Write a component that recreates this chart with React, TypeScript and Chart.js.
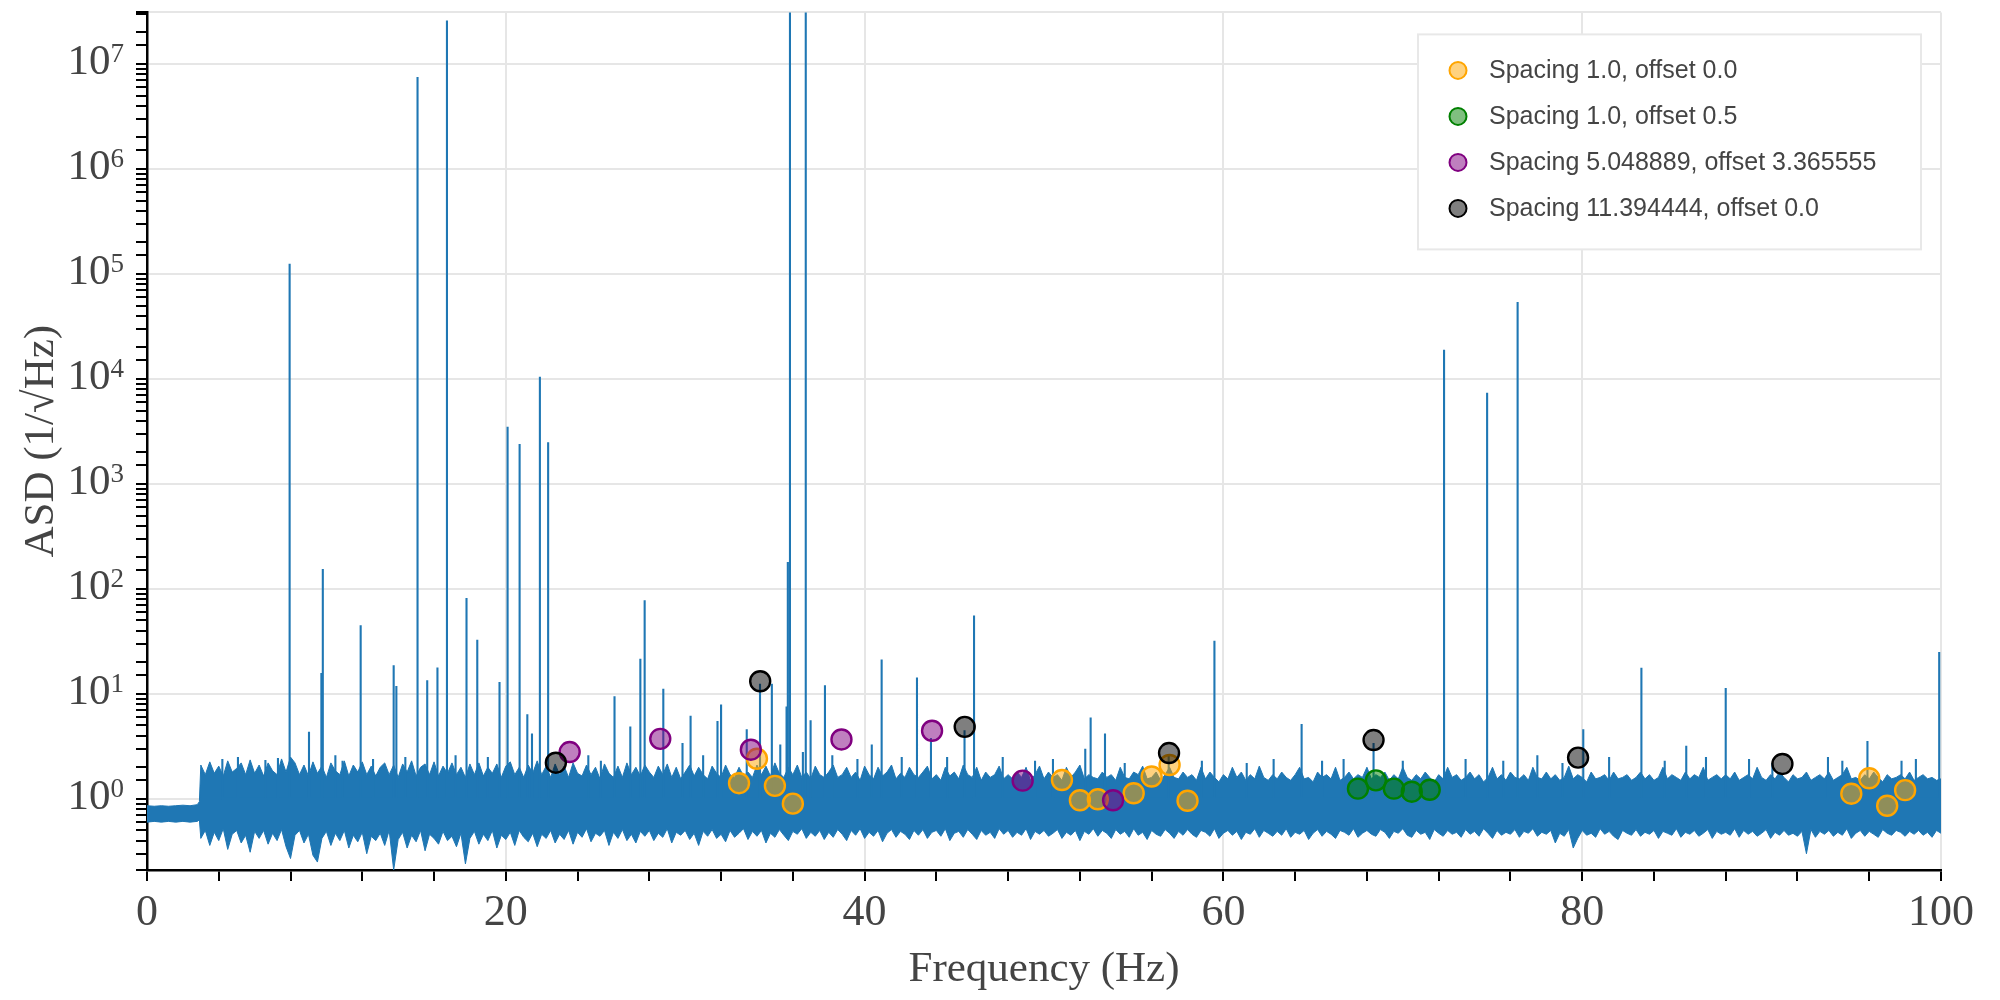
import React, { useEffect, useRef } from 'react';
import { Chart, registerables } from 'chart.js';

Chart.register(...registerables);

const BLUE = '#1f77b4';

// ---- low-frequency band (below ~3 Hz) ----
const lowBandFreqs = [0, 0.4, 0.8, 1.2, 1.6, 2.0, 2.4, 2.8, 2.92];
const lowBandUpper = [0.86, 0.85, 0.86, 0.85, 0.86, 0.87, 0.86, 0.88, 0.94];
const lowBandLower = [0.6, 0.61, 0.6, 0.61, 0.6, 0.61, 0.6, 0.61, 0.63];

// ---- broadband noise envelope, sampled every 0.25 Hz from 3.0 Hz to 100 Hz ----
const noiseStartHz = 3.0;
const noiseStepHz = 0.25;
const noiseUpper = [
  2.1, 1.7, 2.25, 1.75, 2.05, 1.65, 2.3, 1.8, 1.95, 2.2, 1.7, 2.35, 1.75, 2.1, 1.65, 2.2, 1.85, 1.7, 2.4, 1.8,
  2.5, 2.2, 1.7, 2.1, 1.65, 2.25, 1.75, 2.05, 1.6, 2.2, 1.85, 1.7, 2.3, 1.65, 2.1, 1.8, 2.25, 1.7, 2.05, 1.65,
  2.0, 2.2, 1.7, 2.1, 1.6, 2.15, 1.8, 2.3, 1.65, 2.0, 2.15, 1.7, 2.25, 1.65, 2.05, 1.75, 2.2, 1.7, 2.0, 1.6,
  2.15, 1.7, 2.2, 1.65, 2.0, 1.75, 2.15, 1.6, 2.05, 2.25, 1.7, 2.0, 1.6, 2.1, 1.75, 2.3, 1.7, 2.05, 1.6, 2.15,
  1.7, 2.05, 1.6, 2.2, 1.75, 1.65, 2.1, 1.7, 2.0, 1.55, 2.15, 1.75, 1.6, 2.05, 1.6, 2.2, 1.7, 2.0, 1.65, 2.1,
  1.8, 1.6, 2.05, 1.7, 2.15, 1.6, 2.0, 1.55, 1.8, 2.1, 1.65, 2.0, 1.7, 1.55, 2.05, 1.75, 1.6, 2.1, 1.7, 1.6,
  2.0, 1.65, 1.8, 1.6, 2.1, 1.7, 2.05, 1.65, 2.2, 1.75, 1.6, 2.0, 1.7, 2.1, 1.6, 1.8, 1.55, 2.05, 1.7, 1.6,
  1.8, 2.1, 1.6, 1.7, 2.0, 1.6, 1.8, 1.5, 2.05, 1.7, 1.55, 2.0, 1.65, 1.8, 2.1, 1.55, 1.75, 1.6, 2.0, 1.7,
  1.6, 1.8, 2.05, 1.55, 1.7, 1.5, 2.0, 1.65, 1.8, 1.55, 2.1, 1.7, 1.6, 2.0, 1.5, 1.8, 1.6, 1.7, 2.05, 1.55,
  1.7, 1.55, 1.8, 1.6, 2.0, 1.5, 1.7, 2.05, 1.55, 1.8, 1.6, 1.7, 1.5, 2.0, 1.6, 1.8, 2.1, 1.55, 1.7, 1.6,
  1.55, 1.8, 1.6, 1.7, 1.5, 2.0, 1.6, 1.55, 1.8, 1.7, 2.05, 1.55, 1.6, 1.8, 1.5, 1.7, 2.0, 1.6, 1.55, 1.8,
  1.6, 1.7, 1.5, 2.0, 1.55, 1.8, 1.6, 1.45, 1.7, 1.55, 2.0, 1.6, 1.8, 1.5, 1.7, 1.55, 2.05, 1.6, 1.5, 1.7,
  1.55, 1.8, 1.6, 1.5, 1.7, 2.0, 1.55, 1.6, 1.45, 1.8, 1.6, 1.7, 1.55, 2.0, 1.5, 1.6, 1.8, 1.55, 1.7, 1.6,
  2.0, 1.55, 1.7, 1.6, 1.8, 1.5, 1.7, 1.55, 2.0, 1.6, 1.5, 1.7, 1.55, 1.8, 1.6, 1.45, 1.7, 1.55, 2.0, 1.6,
  1.7, 1.5, 1.6, 1.8, 1.55, 1.7, 1.45, 1.6, 2.0, 1.55, 1.7, 1.5, 1.8, 1.6, 1.55, 1.7, 1.5, 2.0, 1.6, 1.55,
  1.8, 1.55, 1.7, 1.5, 1.6, 2.05, 1.55, 1.7, 1.6, 1.45, 1.8, 1.55, 1.6, 1.7, 1.5, 1.8, 1.55, 1.6, 1.7, 1.5,
  1.6, 1.8, 1.55, 1.7, 1.5, 1.6, 2.0, 1.55, 1.7, 1.6, 1.5, 1.8, 1.55, 1.7, 1.6, 2.0, 1.5, 1.6, 1.7, 1.55,
  1.7, 1.55, 1.8, 1.5, 1.6, 1.7, 1.55, 2.0, 1.6, 1.5, 1.7, 1.55, 1.8, 1.6, 1.45, 1.7, 1.55, 1.6, 1.8, 1.5,
  1.6, 1.7, 1.55, 1.8, 1.5, 1.6, 1.7, 2.0, 1.55, 1.6, 1.5, 1.7, 1.55, 1.8, 1.6, 1.45, 1.7, 1.55, 1.6, 1.7,
  1.55, 1.8, 1.5, 1.6, 1.7, 1.55, 1.6, 1.5, 1.55,
];
const noiseLower = [
  0.42, 0.5, 0.36, 0.48, 0.4, 0.52, 0.33, 0.46, 0.5, 0.38, 0.45, 0.31, 0.49, 0.42, 0.5, 0.37, 0.47, 0.4, 0.51, 0.35,
  0.27, 0.45, 0.5, 0.38, 0.46, 0.29, 0.25, 0.42, 0.49, 0.36, 0.47, 0.4, 0.5, 0.34, 0.45, 0.39, 0.48, 0.3, 0.44, 0.4,
  0.47, 0.36, 0.5, 0.21, 0.41, 0.48, 0.34, 0.45, 0.39, 0.5, 0.32, 0.46, 0.42, 0.37, 0.49, 0.4, 0.44, 0.35, 0.47, 0.24,
  0.42, 0.49, 0.37, 0.46, 0.4, 0.5, 0.34, 0.45, 0.41, 0.48, 0.36, 0.5, 0.43, 0.39, 0.47, 0.35, 0.46, 0.42, 0.5, 0.38,
  0.46, 0.41, 0.5, 0.37, 0.48, 0.43, 0.52, 0.39, 0.47, 0.44, 0.5, 0.36, 0.48, 0.42, 0.51, 0.4, 0.46, 0.38, 0.49, 0.44,
  0.5, 0.4, 0.47, 0.43, 0.52, 0.38, 0.48, 0.45, 0.5, 0.41, 0.47, 0.36, 0.49, 0.44, 0.51, 0.42, 0.46, 0.39, 0.5, 0.43,
  0.47, 0.52, 0.41, 0.49, 0.44, 0.5, 0.38, 0.47, 0.43, 0.51, 0.45, 0.4, 0.49, 0.46, 0.52, 0.42, 0.48, 0.44, 0.5, 0.41,
  0.48, 0.43, 0.51, 0.46, 0.4, 0.5, 0.45, 0.52, 0.42, 0.48, 0.44, 0.5, 0.39, 0.47, 0.51, 0.43, 0.49, 0.46, 0.41, 0.5,
  0.45, 0.51, 0.42, 0.48, 0.5, 0.44, 0.52, 0.4, 0.47, 0.49, 0.43, 0.51, 0.46, 0.41, 0.5, 0.45, 0.48, 0.42, 0.52, 0.46,
  0.5, 0.43, 0.48, 0.45, 0.52, 0.41, 0.49, 0.46, 0.5, 0.44, 0.47, 0.51, 0.42, 0.48, 0.45, 0.5, 0.4, 0.49, 0.46, 0.52,
  0.44, 0.5, 0.47, 0.42, 0.51, 0.46, 0.49, 0.43, 0.52, 0.45, 0.48, 0.41, 0.5, 0.46, 0.44, 0.51, 0.47, 0.42, 0.49, 0.45,
  0.51, 0.46, 0.43, 0.5, 0.48, 0.44, 0.52, 0.42, 0.47, 0.5, 0.45, 0.49, 0.41, 0.48, 0.46, 0.52, 0.43, 0.5, 0.47, 0.44,
  0.49, 0.45, 0.52, 0.43, 0.48, 0.46, 0.5, 0.41, 0.47, 0.51, 0.44, 0.49, 0.46, 0.42, 0.5, 0.48, 0.45, 0.52, 0.43, 0.47,
  0.5, 0.46, 0.44, 0.51, 0.48, 0.42, 0.49, 0.47, 0.52, 0.45, 0.43, 0.5, 0.46, 0.48, 0.41, 0.51, 0.47, 0.44, 0.5, 0.46,
  0.48, 0.43, 0.51, 0.46, 0.49, 0.44, 0.52, 0.47, 0.42, 0.5, 0.45, 0.48, 0.46, 0.51, 0.43, 0.49, 0.47, 0.52, 0.44, 0.48,
  0.46, 0.5, 0.38, 0.47, 0.44, 0.51, 0.34, 0.42, 0.5, 0.45, 0.47, 0.43, 0.52, 0.46, 0.49, 0.44, 0.41, 0.5, 0.47, 0.45,
  0.51, 0.44, 0.48, 0.46, 0.5, 0.42, 0.49, 0.47, 0.45, 0.52, 0.43, 0.48, 0.46, 0.5, 0.44, 0.47, 0.51, 0.42, 0.49, 0.46,
  0.48, 0.45, 0.52, 0.43, 0.5, 0.46, 0.49, 0.44, 0.47, 0.51, 0.42, 0.48, 0.45, 0.5, 0.45, 0.47, 0.44, 0.49, 0.3, 0.51,
  0.43, 0.49, 0.46, 0.5, 0.44, 0.48, 0.45, 0.52, 0.42, 0.47, 0.5, 0.44, 0.49, 0.46, 0.43, 0.51, 0.47, 0.45, 0.5, 0.48,
  0.44, 0.49, 0.46, 0.5, 0.45, 0.48, 0.43, 0.5, 0.47,
];

// ---- narrow spectral lines (frequency in Hz, ASD value) ----
const lineFreqs = [
  4.2, 5.07, 6.6, 7.3, 7.95, 9.03, 9.72, 9.8, 10.5, 10.9, 11.91, 12.6, 13.75, 13.9, 14.4, 15.08, 15.62, 16.19,
  16.72, 17.2, 17.81, 18.41, 19.0, 19.65, 20.1, 20.77, 21.2, 21.46, 21.9, 22.36, 24.6, 25.3, 26.06, 26.94, 27.5,
  27.74, 28.78, 29.85, 30.3, 31.0, 31.8, 32.0, 33.43, 34.17, 34.83, 35.3, 35.65, 35.72, 35.84, 36.56, 36.72,
  36.99, 37.79, 38.2, 39.6, 40.4, 40.95, 42.07, 42.92, 43.7, 44.6, 45.57, 46.1, 47.7, 49.5, 50.5, 52.3, 52.6,
  53.4, 54.5, 56.95, 58.8, 59.5, 61.3, 62.8, 64.36, 65.5, 66.7, 68.37, 70.0, 72.3, 73.5, 74.7, 75.6, 76.4, 77.5,
  78.9, 80.06, 81.5, 83.3, 84.6, 85.8, 86.9, 88.0, 89.3, 90.6, 93.7, 94.5, 95.9, 97.8, 98.6, 99.9,
];
const lineValues = [
  2.4, 2.5, 2.35, 2.45, 1.25e5, 4.35, 15.8, 155, 2.6, 2.3, 45, 2.4, 18.7, 11.9, 2.5, 7.5e6, 13.5, 17.8,
  2.6e7, 2.6, 82, 32.7, 2.5, 13, 3500, 2400, 6.4, 4.2, 1.05e4, 2500, 2.6, 2.3, 9.5, 4.9, 21.6,
  78, 11.2, 3.4, 6.2, 2.6, 5.5, 7.9, 4.6, 12.5, 12.5, 3.3, 7.6, 180, 4e7, 2.8, 4e7,
  5.6, 12.1, 2.6, 2.4, 3.3, 21.3, 2.5, 14.3, 3.8, 2.5, 4.5, 55.7, 2.5, 2.3, 2.4, 3.0, 5.96,
  4.2, 2.2, 2.6, 2.3, 32, 2.2, 2.4, 5.15, 2.3, 2.4, 3.4, 2.3, 1.9e4, 2.4, 7400, 2.3, 5.4e4, 2.6,
  2.2, 4.6, 2.5, 17.7, 2.3, 3.2, 2.5, 11.4, 2.4, 2.2, 2.5, 2.3, 3.55, 2.3, 2.4, 25,
];
const lineBase = 1.0;

// ---- comb markers ----
const seriesLabels = [
  'Spacing 1.0, offset 0.0',
  'Spacing 1.0, offset 0.5',
  'Spacing 5.048889, offset 3.365555',
  'Spacing 11.394444, offset 0.0',
];
const seriesColors = ['255,165,0', '0,128,0', '128,0,128', '0,0,0'];

const orangeFreqs = [33, 34, 35, 36, 51, 52, 53, 55, 56, 57, 58, 95, 96, 97, 98];
const orangeValues = [1.41, 2.41, 1.33, 0.9, 1.51, 0.97, 0.99, 1.13, 1.63, 2.1, 0.96, 1.12, 1.57, 0.86, 1.21];
const greenFreqs = [67.5, 68.5, 69.5, 70.5, 71.5];
const greenValues = [1.25, 1.5, 1.25, 1.17, 1.22];
const purpleFreqs = [23.56, 28.61, 33.66, 38.71, 43.76, 48.81, 53.85];
const purpleValues = [2.79, 3.73, 2.94, 3.68, 4.45, 1.49, 0.97];
const blackFreqs = [22.79, 34.18, 45.58, 56.97, 68.37, 79.77, 91.16];
const blackValues = [2.21, 13.2, 4.85, 2.73, 3.63, 2.47, 2.15];

const xMin = 0;
const xMax = 100;
const yMin = 0.21;
const yMax = 3.1e7;

const xTitle = 'Frequency (Hz)';
const yTitle = 'ASD (1/√Hz)';

const SERIF = '"Liberation Serif", "Times New Roman", serif';
const SANS = '"Liberation Sans", Arial, Helvetica, sans-serif';

function pts(xs: number[], ys: number[]) {
  return xs.map((x, i) => ({ x, y: ys[i] }));
}

function isDecade(v: number | undefined) {
  if (v === undefined || v <= 0) return false;
  const e = Math.log10(v);
  return Math.abs(e - Math.round(e)) < 1e-6;
}

const yLabelPlugin = {
  id: 'yPowLabels',
  afterDraw(chart: any) {
    const ctx = chart.ctx;
    const sc = chart.scales.y;
    const right = sc.right - 23;
    ctx.save();
    ctx.fillStyle = '#444';
    ctx.textBaseline = 'alphabetic';
    ctx.textAlign = 'right';
    sc.ticks.forEach((t: any) => {
      if (!isDecade(t.value)) return;
      const y = sc.getPixelForValue(t.value);
      const exp = String(Math.round(Math.log10(t.value)));
      ctx.font = `27px ${SERIF}`;
      const ew = ctx.measureText(exp).width;
      ctx.fillText(exp, right, y - 2);
      ctx.font = `43px ${SERIF}`;
      ctx.fillText('10', right - ew, y + 10);
    });
    ctx.restore();
  },
};

const legendPlugin = {
  id: 'boxLegend',
  afterDraw(chart: any) {
    const ctx = chart.ctx;
    const ca = chart.chartArea;
    const w = 503;
    const h = 215;
    const left = ca.right - 20 - w;
    const top = ca.top + 22;
    ctx.save();
    ctx.fillStyle = 'rgba(255,255,255,0.97)';
    ctx.fillRect(left, top, w, h);
    ctx.strokeStyle = '#e8e8e8';
    ctx.lineWidth = 2;
    ctx.strokeRect(left, top, w, h);
    const items = chart.data.datasets.filter((d: any) => d.isMarker);
    items.forEach((d: any, i: number) => {
      const cy = top + 36 + i * 46;
      ctx.beginPath();
      ctx.arc(left + 40, cy, 8.5, 0, Math.PI * 2);
      ctx.fillStyle = d.pointBackgroundColor;
      ctx.fill();
      ctx.lineWidth = 2;
      ctx.strokeStyle = d.pointBorderColor;
      ctx.stroke();
      ctx.fillStyle = '#444';
      ctx.font = `25px ${SANS}`;
      ctx.textAlign = 'left';
      ctx.textBaseline = 'middle';
      ctx.fillText(d.label, left + 71, cy + 1);
    });
    ctx.restore();
  },
};

export default function App() {
  const ref = useRef<HTMLCanvasElement | null>(null);

  useEffect(() => {
    document.body.style.margin = '0';
    const canvas = ref.current;
    if (!canvas) return;

    const noiseFreqs = noiseUpper.map((_, i) => Math.round((noiseStartHz + i * noiseStepHz) * 100) / 100);
    const upperPts = [...pts(lowBandFreqs, lowBandUpper), ...pts(noiseFreqs, noiseUpper)];
    const lowerPts = [...pts(lowBandFreqs, lowBandLower), ...pts(noiseFreqs, noiseLower)];

    const spikePts: { x: number; y: number }[] = [];
    lineFreqs.forEach((f, i) => {
      spikePts.push({ x: f, y: lineBase }, { x: f, y: lineValues[i] }, { x: f, y: lineBase });
    });

    const markerSets = [
      [orangeFreqs, orangeValues],
      [greenFreqs, greenValues],
      [purpleFreqs, purpleValues],
      [blackFreqs, blackValues],
    ].map(([fs, vs], i) => ({
      label: seriesLabels[i],
      isMarker: true,
      data: pts(fs as number[], vs as number[]),
      showLine: false,
      pointRadius: 10,
      pointHoverRadius: 10,
      pointBorderWidth: 2.4,
      pointBackgroundColor: `rgba(${seriesColors[i]},0.5)`,
      pointBorderColor: `rgb(${seriesColors[i]})`,
      borderColor: `rgb(${seriesColors[i]})`,
      backgroundColor: `rgba(${seriesColors[i]},0.5)`,
      order: 4 - i,
    }));

    const chart = new Chart(canvas, {
      type: 'line',
      data: {
        datasets: [
          {
            label: 'noise-upper',
            data: upperPts,
            borderColor: BLUE,
            backgroundColor: BLUE,
            borderWidth: 1,
            pointRadius: 0,
            fill: '+1',
            tension: 0,
            order: 10,
          },
          {
            label: 'noise-lower',
            data: lowerPts,
            borderColor: BLUE,
            borderWidth: 1,
            pointRadius: 0,
            fill: false,
            tension: 0,
            order: 11,
          },
          {
            label: 'lines',
            data: spikePts,
            borderColor: BLUE,
            borderWidth: 2.1,
            pointRadius: 0,
            fill: false,
            tension: 0,
            order: 9,
          },
          ...markerSets,
        ] as any,
      },
      options: {
        responsive: true,
        maintainAspectRatio: false,
        animation: false,
        devicePixelRatio: 1,
        layout: { padding: { left: 0, right: 59, top: 9, bottom: 0 } },
        plugins: {
          legend: { display: false },
          tooltip: { enabled: false },
        },
        scales: {
          x: {
            type: 'linear',
            min: xMin,
            max: xMax,
            afterFit: (s: any) => {
              s.height = 130;
            },
            border: { display: true, color: '#000', width: 2.5 },
            grid: {
              color: (c: any) => (c.tick && c.tick.value % 20 === 0 ? '#e6e6e6' : 'rgba(0,0,0,0)'),
              lineWidth: 2,
              tickColor: '#000',
              tickWidth: 2,
              tickLength: 11,
            },
            ticks: {
              stepSize: 4,
              autoSkip: false,
              maxRotation: 0,
              color: '#444',
              padding: 6,
              font: { family: SERIF, size: 44 },
              callback: (v: any) => (Number(v) % 20 === 0 ? String(v) : ''),
            },
            title: {
              display: true,
              text: xTitle,
              color: '#444',
              font: { family: SERIF, size: 43 },
              padding: { top: 0, bottom: 4 },
            },
          },
          y: {
            type: 'logarithmic',
            min: yMin,
            max: yMax,
            afterFit: (s: any) => {
              s.width = 147;
            },
            border: { display: true, color: '#000', width: 2.5 },
            grid: {
              color: (c: any) =>
                c.tick && (isDecade(c.tick.value) || c.tick.value === yMax) ? '#e6e6e6' : 'rgba(0,0,0,0)',
              lineWidth: 2,
              tickColor: '#000',
              tickWidth: 2,
              tickLength: 11,
            },
            ticks: { display: false, autoSkip: false },
            title: {
              display: true,
              text: yTitle,
              color: '#444',
              font: { family: SERIF, size: 43 },
              padding: { top: 16, bottom: 0 },
            },
          },
        },
      } as any,
      plugins: [yLabelPlugin, legendPlugin],
    });

    return () => chart.destroy();
  }, []);

  return (
    <div style={{ width: 2000, height: 1000, position: 'relative' }}>
      <canvas ref={ref} />
    </div>
  );
}
